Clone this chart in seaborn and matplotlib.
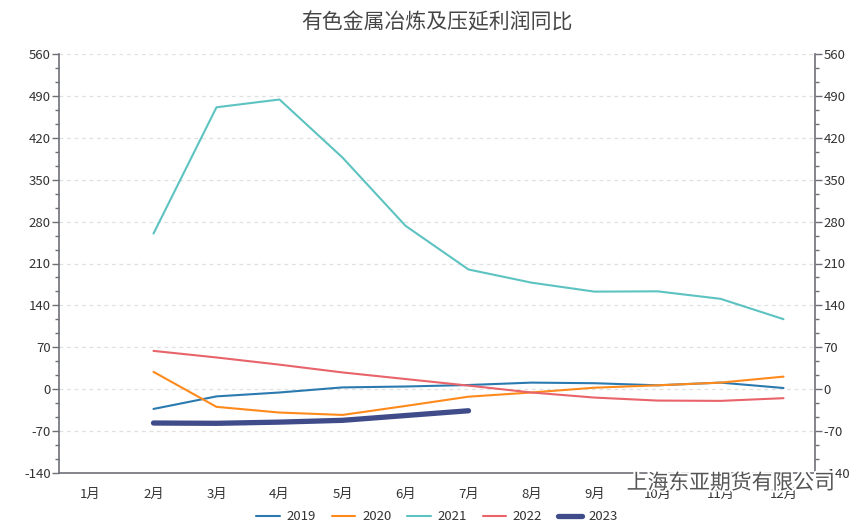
import matplotlib
matplotlib.use("Agg")
import matplotlib.pyplot as plt
import matplotlib.patheffects as pe
from matplotlib.ticker import MultipleLocator
import seaborn as sns
import pandas as pd

months = ["1月", "2月", "3月", "4月", "5月", "6月", "7月", "8月", "9月", "10月", "11月", "12月"]
month_pos = list(range(1, 13))

x_full = [2, 3, 4, 5, 6, 7, 8, 9, 10, 11, 12]
v2019 = [-33, -12, -5.5, 3, 4.5, 7, 11, 10, 6.5, 11, 2]
v2020 = [29, -29.5, -39, -43, -28, -12.5, -5.5, 2.5, 6.5, 11, 21]
v2021 = [260, 471, 484, 387, 273, 200, 178, 163, 163.5, 151, 117]
v2022 = [64, 53, 41, 28, 17, 6, -5.5, -14, -19, -19.5, -15]
x2023 = [2, 3, 4, 5, 6, 7]
v2023 = [-56.5, -57, -55, -52, -44, -36]

series = ["2019", "2020", "2021", "2022", "2023"]
colors = ["#2a7ab0", "#ff8a1c", "#5cc3c1", "#e8636a", "#3f4c89"]
widths = [1.5, 1.5, 1.5, 1.5, 3.8]

frames = []
for name, xs, vs in [("2019", x_full, v2019), ("2020", x_full, v2020),
                     ("2021", x_full, v2021), ("2022", x_full, v2022),
                     ("2023", x2023, v2023)]:
    frames.append(pd.DataFrame({"month": xs, "value": vs, "year": name}))
df = pd.concat(frames, ignore_index=True)

sns.set_style("white")
plt.rcParams["font.family"] = ["Noto Sans CJK SC", "DejaVu Sans"]
plt.rcParams["axes.unicode_minus"] = False

fig = plt.figure(figsize=(8.65, 5.2), dpi=100)
ax = fig.add_axes([59 / 865, 1 - 473 / 520, (815 - 59) / 865, (473 - 54) / 520])

for name, c, w in zip(series, colors, widths):
    sub = df[df["year"] == name]
    sns.lineplot(data=sub, x="month", y="value", ax=ax, color=c, linewidth=w,
                 label=name, sort=False, legend=False)

ymin, ymax = -140, 560
ax.set_ylim(ymin, ymax)
ax.set_xlim(0.5, 12.5)
ax.set_xticks(month_pos)
ax.set_xticklabels(months)
ax.set_xlabel("")
ax.set_ylabel("")
ax.yaxis.set_major_locator(MultipleLocator(70))
ax.yaxis.set_minor_locator(MultipleLocator(70 / 3))

axis_col = "#6e7079"
label_col = "#333333"
for s in ["top", "right"]:
    ax.spines[s].set_visible(False)
for s in ["left", "bottom"]:
    ax.spines[s].set_color(axis_col)
    ax.spines[s].set_linewidth(1.2)
ax.tick_params(axis="both", which="major", length=5, width=1, color=axis_col,
               labelsize=9.5, labelcolor=label_col, pad=1)
ax.tick_params(axis="y", which="minor", length=3, width=1, color=axis_col)
ax.tick_params(axis="x", pad=6)
ax.grid(axis="y", which="major", linestyle=(0, (3, 3)), color="#e0e0e0", linewidth=0.9)
ax.set_axisbelow(True)

ax2 = ax.twinx()
ax2.set_ylim(ymin, ymax)
ax2.yaxis.set_major_locator(MultipleLocator(70))
ax2.yaxis.set_minor_locator(MultipleLocator(70 / 3))
for s in ["top", "left", "bottom"]:
    ax2.spines[s].set_visible(False)
ax2.spines["right"].set_color(axis_col)
ax2.spines["right"].set_linewidth(1.2)
ax2.tick_params(axis="y", which="major", length=5, width=1, color=axis_col,
                labelsize=9.5, labelcolor=label_col, pad=1)
ax2.tick_params(axis="y", which="minor", length=3, width=1, color=axis_col)

fig.text(437 / 865, 1 - 22 / 520, "有色金属冶炼及压延利润同比", ha="center", va="center",
         fontsize=15, color="#464646")

handles, labels = ax.get_legend_handles_labels()
leg = fig.legend(handles, labels, loc="center", bbox_to_anchor=(437 / 865, 1 - 517 / 520),
                 ncol=5, frameon=False, fontsize=9.5, handlelength=1.8,
                 columnspacing=1.2, handletextpad=0.5)
for t in leg.get_texts():
    t.set_color(label_col)

fig.text(731 / 865, 1 - 483 / 520, "上海东亚期货有限公司", ha="center", va="center",
         fontsize=15, color="#555555",
         path_effects=[pe.withStroke(linewidth=3, foreground="white")])

fig.savefig("out.png", dpi=100)
